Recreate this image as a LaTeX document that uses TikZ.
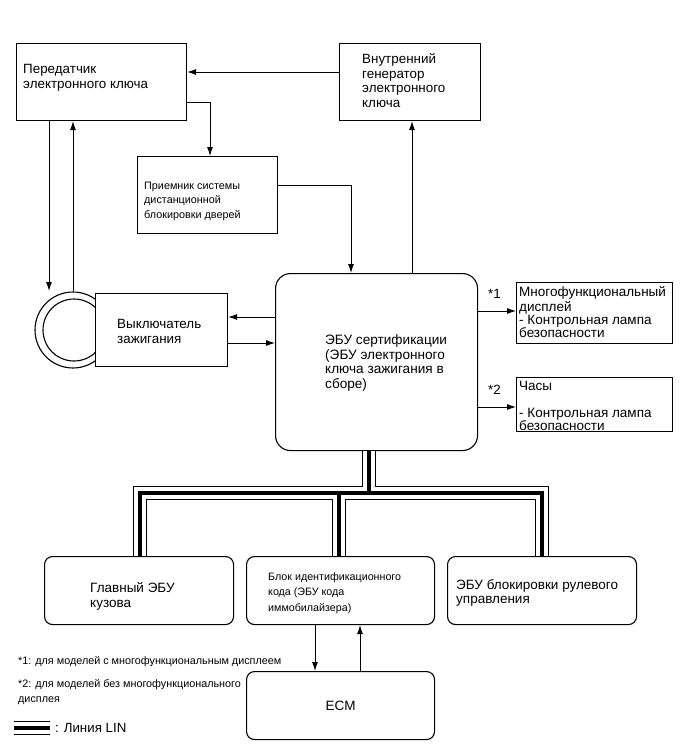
\documentclass[tikz,border=0pt]{standalone}
\usepackage{fontspec}
\setmainfont{Liberation Sans}
\usetikzlibrary{arrows.meta}
\begin{document}
\begin{tikzpicture}[x=1pt,y=-1pt,
  box/.style={draw, line width=1.1pt, fill=white, anchor=north west, inner sep=0pt},
  rbox/.style={box, rounded corners=8pt},
  arr/.style={-{Latex[length=9pt,width=6pt]}, line width=0.9pt},
  linA/.style={line width=14pt, black},
  linB/.style={line width=12pt, white},
  linC/.style={line width=3.6pt, black},
  ml/.style={anchor=north west, inner sep=0pt, align=left},
  sl/.style={anchor=base west, inner sep=0pt},
  fA/.style={font=\fontsize{13.4}{14.8}\selectfont, yshift=10.36pt},
  fB/.style={font=\fontsize{13.6}{14.8}\selectfont, yshift=10.36pt},
  fS/.style={font=\fontsize{10.8}{14.5}\selectfont, yshift=10.15pt},
]
\useasboundingbox (0,0) rectangle (690,756);

% boxes
\node[box, minimum width=170pt, minimum height=77pt] (tx) at (16,43) {};
\node[box, minimum width=141pt, minimum height=77pt] (gen) at (339,43) {};
\node[box, minimum width=140pt, minimum height=77pt] (rx) at (137,156) {};
\node[box, rounded corners=15pt, minimum width=202pt, minimum height=177pt] (ecu) at (275,273) {};
\node[box, minimum width=156pt, minimum height=61pt] (mfd) at (516,282) {};
\node[box, minimum width=156pt, minimum height=54pt] (clk) at (516,377) {};
\node[rbox, minimum width=189pt, minimum height=68pt] (bcm) at (44,556) {};
\node[rbox, minimum width=188pt, minimum height=68pt] (idb) at (246,556) {};
\node[rbox, minimum width=189pt, minimum height=68pt] (slk) at (447,556) {};
\node[rbox, minimum width=188pt, minimum height=68pt] (ecm) at (246,671) {};

% ignition ring and switch
\node[draw, circle, line width=1.1pt, minimum size=76pt, inner sep=0pt] (ring) at (73,330) {};
\node[draw, circle, line width=1.1pt, minimum size=62pt, inner sep=0pt] (ringin) at (74,330) {};
\node[box, minimum width=132pt, minimum height=73pt] (sw) at (95,293) {};

% texts
\node[ml, fA] (txt1) at (23,73) {\strut Передатчик\\электронного ключа};
\node[ml, fA] (txt2) at (362,63) {\strut Внутренний\\генератор\\электронного\\ключа};
\node[ml, fS] (txt3) at (144,189) {\strut Приемник системы\\дистанционной\\блокировки дверей};
\node[ml, fA] (txt4) at (117,328) {\strut Выключатель\\зажигания};
\node[ml, fB] (txt5) at (325,344) {\strut ЭБУ сертификации\\(ЭБУ электронного\\ключа зажигания в\\сборе)};
\node[ml, font=\fontsize{13.5}{13}\selectfont, yshift=9.1pt] (txt6) at (519,295) {\strut Многофункциональный\\дисплей\\- Контрольная лампа\\безопасности};
\node[ml, font=\fontsize{13.5}{13}\selectfont, yshift=9.1pt] (txt7) at (519,390) {\strut Часы\\[13pt]- Контрольная лампа\\безопасности};
\node[sl, font=\fontsize{13.4}{15}\selectfont] (n1) at (488,298) {*1};
\node[sl, font=\fontsize{13.4}{15}\selectfont] (n2) at (488,394) {*2};
\node[ml, font=\fontsize{13.5}{15}\selectfont, yshift=10.5pt] (txt8) at (90,592) {\strut Главный ЭБУ\\кузова};
\node[ml, font=\fontsize{10.7}{15.5}\selectfont, yshift=10.85pt] (txt9) at (268,580) {\strut Блок идентификационного\\кода (ЭБУ кода\\иммобилайзера)};
\node[ml, font=\fontsize{13.5}{14}\selectfont, yshift=9.8pt] (txt10) at (456,589) {\strut ЭБУ блокировки рулевого\\управления};
\node[font=\fontsize{13.5}{15}\selectfont, inner sep=0pt] (txt11) at (ecm.center) {ECM};
\node[sl, font=\fontsize{10.8}{15}\selectfont] (fn1) at (18,664) {*1: для моделей с многофункциональным дисплеем};
\node[ml, font=\fontsize{10.8}{15}\selectfont, yshift=10.5pt] (fn2) at (18,687) {\strut *2: для моделей без многофункционального\\дисплея};
\node[sl, font=\fontsize{13.3}{15}\selectfont] (lgt) at (55,732) {: Линия LIN};

% connectors
\coordinate (ringtip) at (49,291);
\draw[arr] (gen.west |- 0,72) -- (tx.east |- 0,72);
\draw[arr] (tx.east |- 0,102) -| (rx.north -| 210,0);
\draw[arr] (rx.east |- 0,185) -| (ecu.north -| 351,0);
\draw[arr] (ecu.north -| 412,0) -- (gen.south -| 412,0);
\draw[arr] (tx.south -| ringtip) -- (ringtip);
\draw[arr] (ring.north) -- (ring.north |- tx.south);
\draw[arr] (ecu.west |- 0,317) -- (sw.east |- 0,317);
\draw[arr] (sw.east |- 0,343) -- (ecu.west |- 0,343);
\draw[arr] (ecu.east |- 0,311) -- (mfd.west |- 0,311);
\draw[arr] (ecu.east |- 0,407) -- (clk.west |- 0,407);
\draw[arr] (idb.south -| 315,0) -- (ecm.north -| 315,0);
\draw[arr] (ecm.north -| 360,0) -- (idb.south -| 360,0);

% LIN bus
\coordinate (j) at (369,493);
\coordinate (lg1) at (14,728);
\coordinate (lg2) at (50,728);
\foreach \s in {linA,linB,linC}{
  \draw[\s] (ecu.south -| j) -- (j);
  \draw[\s] (bcm.north -| 140,0) -- (140,493) -- (542,493) -- (slk.north -| 542,0);
  \draw[\s] (idb.north -| 339,0) -- (339,493);
  \draw[\s] (lg1) -- (lg2);
}
\end{tikzpicture}
\end{document}
